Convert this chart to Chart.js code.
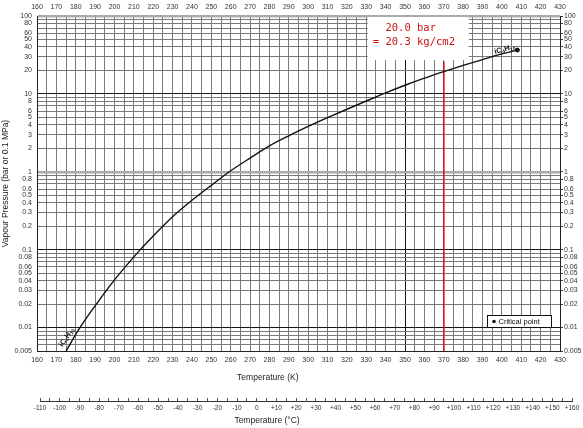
<!DOCTYPE html>
<html lang="en">
<head>
<meta charset="UTF-8">
<title>Vapour Pressure iC4H10</title>
<script src="https://cdn.jsdelivr.net/npm/chart.js"></script>
<style>
  body { margin: 0; background: #fff; }
  #wrap { position: relative; width: 583px; height: 428px; }
  canvas { position: absolute; left: 0; }
</style>
</head>
<body>
<div id="wrap">
  <canvas id="grafico" width="583" height="386" style="top:0"></canvas>
  <canvas id="celsius" width="583" height="42" style="top:386px"></canvas>
</div>
<script>
// curve (iC4H10)
const tempK = [175, 182, 190, 200, 213, 220, 230, 240, 250, 260, 270, 280, 290, 300, 310, 320, 330, 340, 350, 360, 370, 380, 390, 400, 408];
const pressureBar = [0.005, 0.0098, 0.019, 0.041, 0.098, 0.15, 0.265, 0.43, 0.67, 1.03, 1.5, 2.15, 2.9, 3.82, 4.95, 6.35, 8.1, 10.3, 12.9, 15.9, 19.3, 23.2, 27.6, 32.6, 36.5];
const criticalK = [408];
const criticalBar = [36.5];
const markerK = [370, 370];
const markerBar = [26, 0.005];

const kelvinLabels = [160, 170, 180, 190, 200, 210, 220, 230, 240, 250, 260, 270, 280, 290, 300, 310, 320, 330, 340, 350, 360, 370, 380, 390, 400, 410, 420, 430];
const celsiusLabels = [-110, -100, -90, -80, -70, -60, -50, -40, -30, -20, -10, 0, 10, 20, 30, 40, 50, 60, 70, 80, 90, 100, 110, 120, 130, 140, 150, 160];
const pressureLabels = [0.005, 0.01, 0.02, 0.03, 0.04, 0.05, 0.06, 0.08, 0.1, 0.2, 0.3, 0.4, 0.5, 0.6, 0.8, 1, 2, 3, 4, 5, 6, 8, 10, 20, 30, 40, 50, 60, 80, 100];

// grid lines: every 5 K, every 1..9 step of each decade
const kelvinGrid = [];
for (let v = 160; v <= 430; v += 5) kelvinGrid.push(v);
const pressureGrid = [];
[0.001, 0.01, 0.1, 1, 10].forEach(d => {
    for (let m = 1; m <= 9; m++) {
        let v = Number((m * d).toPrecision(3));
        if (v >= 0.005 && v <= 100) pressureGrid.push(v);
    }
});
pressureGrid.push(100);

const celsiusGrid = [];
for (let v = -110; v <= 160; v += 5) celsiusGrid.push(v);

const tickFont = { family: "Liberation Sans", size: 7 };
const titleFont = { family: "Liberation Sans", size: 8.5 };
const pad = n => "\u00a0".repeat(n);

function esDecada(v) {
    let l = Math.log10(v);
    return Math.abs(l - Math.round(l)) < 1e-9;
}

function drawFormula(ctx, x, y, angle) {
    const parts = [["iC", false], ["4", true], ["H", false], ["10", true]];
    ctx.save();
    ctx.translate(x, y);
    ctx.rotate(angle);
    let w = 0;
    parts.forEach(p => {
        ctx.font = p[1] ? "bold 5px Liberation Sans" : "bold 7.5px Liberation Sans";
        w += ctx.measureText(p[0]).width;
    });
    let cx = -w / 2;
    ctx.fillStyle = "#111";
    ctx.textBaseline = "middle";
    parts.forEach(p => {
        ctx.font = p[1] ? "bold 5px Liberation Sans" : "bold 7.5px Liberation Sans";
        ctx.fillText(p[0], cx, p[1] ? 2 : 0);
        cx += ctx.measureText(p[0]).width;
    });
    ctx.restore();
}

const extras = {
    id: "extras",
    beforeDatasetsDraw(chart) {
        const ctx = chart.ctx, x = chart.scales.x;
        // annotation box over the grid
        const xr = x.getPixelForValue(370);
        ctx.save();
        ctx.fillStyle = "#fff";
        ctx.fillRect(xr - 76, 17, 101, 43);
        ctx.fillStyle = "#cc1111";
        ctx.font = "10.5px DejaVu Sans Mono";
        ctx.textBaseline = "alphabetic";
        ctx.fillText("  20.0 bar", xr - 71, 31);
        ctx.fillText("= 20.3 kg/cm2", xr - 71, 45);
        ctx.restore();
    },
    afterDatasetsDraw(chart) {
        const ctx = chart.ctx, x = chart.scales.x, y = chart.scales.y, a = chart.chartArea;
        drawFormula(ctx, x.getPixelForValue(175.3), y.getPixelForValue(0.0075), -57 * Math.PI / 180);
        drawFormula(ctx, x.getPixelForValue(401.5), y.getPixelForValue(37.5), -15 * Math.PI / 180);
        // legend
        ctx.save();
        const bx = a.right - 72.5, by = 315.5;
        ctx.fillStyle = "#fff";
        ctx.fillRect(bx, by, 64, 12);
        ctx.strokeStyle = "#111";
        ctx.lineWidth = 1;
        ctx.strokeRect(bx, by, 64, 12);
        ctx.fillStyle = "#111";
        ctx.beginPath();
        ctx.arc(bx + 6.5, by + 6, 1.8, 0, Math.PI * 2);
        ctx.fill();
        ctx.font = "7.5px Liberation Sans";
        ctx.textBaseline = "middle";
        ctx.fillText("Critical point", bx + 11, by + 6.5);
        ctx.restore();
    }
};

new Chart(document.getElementById("grafico"), {
    type: "scatter",
    data: {
        datasets: [{
            label: "iC4H10",
            data: tempK.map((t, i) => ({ x: t, y: pressureBar[i] })),
            showLine: true,
            borderColor: "#111",
            borderWidth: 1.4,
            pointRadius: 0,
            cubicInterpolationMode: "monotone"
        }, {
            label: "Critical point",
            data: criticalK.map((t, i) => ({ x: t, y: criticalBar[i] })),
            pointRadius: 2,
            backgroundColor: "#111",
            borderColor: "#111"
        }, {
            label: "370 K",
            data: markerK.map((t, i) => ({ x: t, y: markerBar[i] })),
            showLine: true,
            borderColor: "#dd1111",
            borderWidth: 1,
            pointRadius: 0
        }]
    },
    options: {
        responsive: false,
        animation: false,
        devicePixelRatio: 1,
        layout: { padding: 0 },
        plugins: { legend: { display: false }, tooltip: { enabled: false } },
        scales: {
            x: {
                type: "linear", position: "bottom", min: 160, max: 430,
                afterBuildTicks: s => { s.ticks = kelvinGrid.map(v => ({ value: v })); },
                afterFit: s => { s.height = 35; },
                ticks: {
                    autoSkip: false, maxRotation: 0, minRotation: 0, padding: 5,
                    font: tickFont, color: "#333",
                    callback: v => kelvinLabels.includes(v) ? String(v) : ""
                },
                grid: {
                    drawTicks: false,
                    color: c => (c.tick && c.tick.value === 350) ? "#111" : "#7a7a7a",
                    lineWidth: 1
                },
                border: { color: "#222" },
                title: { display: true, text: "Temperature (K)" + pad(26), font: titleFont, color: "#222", padding: { top: 0, bottom: 3 } }
            },
            xTop: {
                type: "linear", position: "top", min: 160, max: 430,
                afterBuildTicks: s => { s.ticks = kelvinLabels.map(v => ({ value: v })); },
                afterFit: s => { s.height = 16; },
                ticks: { autoSkip: false, maxRotation: 0, padding: 5, font: tickFont, color: "#333" },
                grid: { display: false, drawTicks: false },
                border: { display: false }
            },
            y: {
                type: "logarithmic", position: "left", min: 0.005, max: 100,
                afterBuildTicks: s => { s.ticks = pressureGrid.map(v => ({ value: v })); },
                afterFit: s => { s.width = 37; },
                ticks: {
                    autoSkip: false, padding: 5, font: tickFont, color: "#333",
                    callback: v => pressureLabels.includes(v) ? String(v) : ""
                },
                grid: {
                    drawTicks: false,
                    color: c => {
                        if (!c.tick) return "#7a7a7a";
                        let v = c.tick.value;
                        if (v === 1 || v === 100) return "#aaaaaa";
                        return esDecada(v) ? "#151515" : "#7a7a7a";
                    },
                    lineWidth: c => (c.tick && (c.tick.value === 1 || c.tick.value === 100)) ? 2.5 : 1
                },
                border: { color: "#222" },
                title: { display: true, text: "Vapour Pressure (bar or 0.1 MPa)", font: titleFont, color: "#222", padding: { top: 1, bottom: 0 } }
            },
            yRight: {
                type: "logarithmic", position: "right", min: 0.005, max: 100,
                afterBuildTicks: s => { s.ticks = pressureLabels.map(v => ({ value: v })); },
                afterFit: s => { s.width = 23; },
                ticks: {
                    autoSkip: false, padding: 1, font: tickFont, color: "#333",
                    callback: v => String(v)
                },
                grid: { drawOnChartArea: false, drawTicks: true, tickLength: 3, tickColor: "#444" },
                border: { color: "#222" }
            }
        }
    },
    plugins: [extras]
});

// Celsius scale below the chart
new Chart(document.getElementById("celsius"), {
    type: "scatter",
    data: { datasets: [] },
    options: {
        responsive: false,
        animation: false,
        devicePixelRatio: 1,
        layout: { padding: { left: 40, right: 11, top: 12, bottom: 0 } },
        plugins: { legend: { display: false }, tooltip: { enabled: false } },
        scales: {
            x: {
                type: "linear", position: "bottom", min: -110, max: 160,
                afterBuildTicks: s => { s.ticks = celsiusGrid.map(v => ({ value: v })); },
                afterFit: s => { s.height = 27; },
                ticks: {
                    autoSkip: false, maxRotation: 0, minRotation: 0, padding: 3,
                    font: { family: "Liberation Sans", size: 6.5 }, color: "#333",
                    callback: v => celsiusLabels.includes(v) ? (v > 0 ? "+" + v : String(v)) : ""
                },
                grid: { drawTicks: false, color: "#555", lineWidth: 1 },
                border: { color: "#333" },
                title: { display: true, text: "Temperature (\u00b0C)" + pad(33), font: titleFont, color: "#222", padding: { top: 0, bottom: 2 } }
            },
            y: { display: false, min: 0, max: 1 }
        }
    }
});
</script>
</body>
</html>
